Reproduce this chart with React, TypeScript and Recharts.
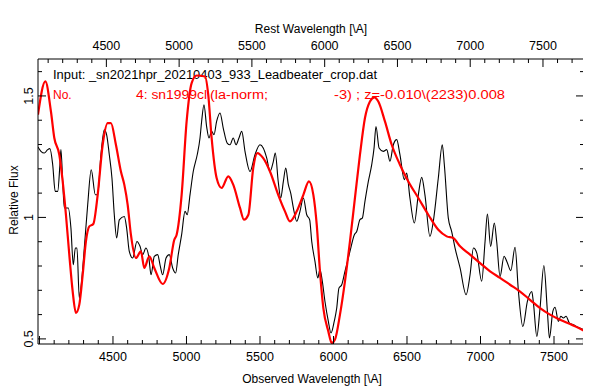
import React from "react";
import { LineChart, Line, XAxis, YAxis, Customized } from "recharts";

const obsWave = [3990,4010,4033,4056,4071,4090,4107,4124,4139,4146,4158,4169,4196,4214,4230,4244,4255,4271,4282,4305,4328,4352,4380,4396,4418,4441,4457,4475,4493,4509,4525,4543,4577,4593,4611,4634,4663,4684,4702,4724,4743,4759,4781,4804,4820,4838,4861,4883,4906,4926,4944,4967,4990,5005,5024,5046,5073,5092,5103,5119,5137,5153,5171,5187,5205,5228,5250,5277,5296,5318,5337,5357,5376,5398,5432,5466,5500,5522,5546,5568,5591,5604,5624,5641,5659,5675,5693,5709,5727,5750,5772,5795,5818,5838,5852,5874,5893,5908,5924,5942,5965,5983,6005,6022,6037,6056,6078,6112,6142,6158,6180,6196,6214,6237,6260,6276,6289,6310,6339,6362,6384,6407,6430,6452,6482,6498,6520,6550,6577,6600,6622,6656,6679,6713,6740,6754,6781,6804,6827,6861,6902,6929,6952,6975,7008,7031,7047,7069,7094,7110,7133,7160,7179,7206,7235,7258,7288,7319,7349,7360,7383,7405,7431,7455,7469,7492,7507,7530,7546,7564,7582,7605,7632,7666,7704];
const obsFlux = [1.29,1.272,1.265,1.279,1.283,1.217,1.107,1.107,1.217,1.279,1.148,1.039,1.039,0.956,0.805,0.874,0.874,0.668,0.709,0.874,1.052,1.196,1.093,1.093,1.258,1.361,1.34,1.258,1.162,1.011,0.915,0.99,1.004,0.956,0.86,0.833,0.901,0.881,0.847,0.874,0.84,0.764,0.84,0.847,0.805,0.764,0.833,0.847,0.792,0.771,0.847,0.929,1.025,1.011,1.093,1.189,1.258,1.327,1.395,1.464,1.374,1.327,1.354,1.34,1.395,1.43,1.368,1.306,1.299,1.327,1.299,1.327,1.354,1.272,1.189,1.258,1.299,1.286,1.244,1.189,1.231,1.265,1.148,1.08,1.148,1.203,1.135,1.1,1.039,0.984,1.025,1.08,1.011,0.99,0.901,0.819,0.751,0.785,0.737,0.654,0.572,0.524,0.572,0.627,0.709,0.723,0.778,0.86,0.929,0.942,0.991,0.997,1.066,1.148,1.217,1.286,1.374,1.286,1.272,1.279,1.231,1.299,1.32,1.258,1.155,1.183,1.08,0.977,1.093,1.165,1.093,0.922,0.984,1.162,1.299,1.217,0.997,0.942,0.874,0.792,0.682,0.764,0.874,0.853,0.737,0.901,1.014,0.881,0.977,0.901,0.757,0.84,0.819,0.781,0.877,0.695,0.551,0.654,0.695,0.648,0.51,0.627,0.802,0.613,0.504,0.613,0.63,0.572,0.593,0.586,0.593,0.565,0.558,0.547,0.538];

const tmplWave = [3990,4040,4078,4101,4135,4158,4180,4203,4226,4248,4271,4294,4316,4339,4366,4396,4430,4464,4486,4520,4554,4577,4600,4622,4656,4690,4713,4747,4781,4838,4883,4917,4933,4967,5001,5035,5069,5126,5148,5171,5205,5239,5284,5318,5364,5391,5421,5454,5482,5522,5568,5624,5670,5704,5750,5795,5833,5863,5886,5908,5931,5965,5988,6010,6044,6078,6112,6146,6180,6214,6248,6278,6305,6350,6396,6452,6509,6577,6645,6713,6770,6815,6861,6929,6997,7065,7133,7201,7269,7337,7405,7473,7541,7609,7704];
const tmplFlux = [1.423,1.56,1.436,1.327,1.258,1.148,1.011,0.846,0.695,0.607,0.641,0.764,0.901,0.963,0.973,1.093,1.299,1.388,1.388,1.299,1.189,1.135,1.052,0.929,0.833,0.86,0.792,0.84,0.792,0.726,0.792,0.908,0.929,1.093,1.395,1.553,1.584,1.58,1.505,1.327,1.162,1.121,1.169,1.135,1.039,0.991,1.011,1.203,1.265,1.244,1.189,1.093,1.025,0.984,1.025,1.093,1.148,1.093,0.97,0.778,0.627,0.531,0.483,0.497,0.6,0.737,0.901,1.08,1.258,1.409,1.477,1.494,1.477,1.395,1.299,1.217,1.148,1.08,1.011,0.949,0.922,0.915,0.881,0.847,0.812,0.778,0.751,0.723,0.695,0.661,0.627,0.6,0.579,0.561,0.534];

const obsTicks = [4000,4100,4200,4300,4400,4500,4600,4700,4800,4900,5000,5100,5200,5300,5400,5500,5600,5700,5800,5900,6000,6100,6200,6300,6400,6500,6600,6700,6800,6900,7000,7100,7200,7300,7400,7500,7600,7700];
const restTicks = [4100,4200,4300,4400,4500,4600,4700,4800,4900,5000,5100,5200,5300,5400,5500,5600,5700,5800,5900,6000,6100,6200,6300,6400,6500,6600,6700,6800,6900,7000,7100,7200,7300,7400,7500,7600,7700];
const waveLabels = [4500, 5000, 5500, 6000, 6500, 7000, 7500];
const fluxTicks = [0.5,0.6,0.7,0.8,0.9,1.0,1.1,1.2,1.3,1.4,1.5,1.6];
const fluxLabels = [0.5, 1.0, 1.5];

const redshift = -0.01;
const obsDomain = [3990, 7704];
const restDomain = [obsDomain[0] / (1 + redshift), obsDomain[1] / (1 + redshift)];
const fluxDomain = [0.479, 1.652];

const obsData = obsWave.map((w, i) => ({ w, f: obsFlux[i] }));
const tmplData = tmplWave.map((w, i) => ({ w, f: tmplFlux[i] }));

const FONT = "'Liberation Sans', Arial, Helvetica, sans-serif";

const BottomTick = (p: any) => {
  const v = p.payload.value;
  const major = v % 500 === 0;
  const labeled = waveLabels.includes(v);
  return (
    <g>
      <line x1={p.x} y1={p.y} x2={p.x} y2={p.y - (major ? 8 : 4)} stroke="#000" strokeWidth={1} />
      {labeled && (
        <text x={p.x} y={p.y + 17} textAnchor="middle" fontFamily={FONT} fontSize={12.5} fill="#000">{v}</text>
      )}
    </g>
  );
};

const TopTick = (p: any) => {
  const v = p.payload.value;
  const major = v % 500 === 0;
  const labeled = waveLabels.includes(v);
  return (
    <g>
      <line x1={p.x} y1={p.y} x2={p.x} y2={p.y + (major ? 8 : 4)} stroke="#000" strokeWidth={1} />
      {labeled && (
        <text x={p.x} y={p.y - 9} textAnchor="middle" fontFamily={FONT} fontSize={12.5} fill="#000">{v}</text>
      )}
    </g>
  );
};

const isMajorY = (v: number) => fluxLabels.some((m) => Math.abs(m - v) < 1e-6);

const LeftTick = (p: any) => {
  const v = p.payload.value;
  const major = isMajorY(v);
  return (
    <g>
      <line x1={p.x} y1={p.y} x2={p.x + (major ? 8 : 4)} y2={p.y} stroke="#000" strokeWidth={1} />
      {major && (
        <text x={p.x - 5} y={p.y} textAnchor="middle" fontFamily={FONT} fontSize={12.5} fill="#000"
          transform={`rotate(-90 ${p.x - 5} ${p.y})`}>{v === 1 ? "1" : String(v)}</text>
      )}
    </g>
  );
};

const RightTick = (p: any) => {
  const v = p.payload.value;
  const major = isMajorY(v);
  return <line x1={p.x} y1={p.y} x2={p.x - (major ? 8 : 4)} y2={p.y} stroke="#000" strokeWidth={1} />;
};

const Texts = () => (
  <g fontFamily={FONT} fontSize={12}>
    <text x={303} y={25} textAnchor="middle" fill="#000">Rest Wavelength [\A]</text>
    <text x={304} y={375} textAnchor="middle" fill="#000">Observed Wavelength [\A]</text>
    <text x={10} y={192} textAnchor="middle" fill="#000" transform="rotate(-90 10 192)">Relative Flux</text>
    <text x={45} y={71} fill="#000" textLength={324} lengthAdjust="spacingAndGlyphs">Input: _sn2021hpr_20210403_933_Leadbeater_crop.dat</text>
    <text x={45} y={91} fill="#ff0000">No.</text>
    <text x={128} y={91} fill="#ff0000" textLength={71} lengthAdjust="spacingAndGlyphs">4: sn1999cl</text>
    <text x={202} y={91} fill="#ff0000" textLength={58} lengthAdjust="spacingAndGlyphs">(la-norm;</text>
    <text x={326} y={91} fill="#ff0000" textLength={171} lengthAdjust="spacingAndGlyphs">-3) ; z=-0.010\(2233)0.008</text>
  </g>
);

export default function App() {
  return (
    <div style={{ width: 583, height: 380, background: "#fff" }}>
      <LineChart width={583} height={380} margin={{ top: 21, right: 2, bottom: 14, left: 10 }}>
        <XAxis xAxisId="bottom" dataKey="w" type="number" domain={obsDomain} allowDataOverflow
          ticks={obsTicks} interval={0} height={30} tickSize={0} tickMargin={0} tick={<BottomTick />}
          axisLine={{ stroke: "#000" }} tickLine={false} orientation="bottom" />
        <XAxis xAxisId="top" dataKey="w" type="number" domain={restDomain} allowDataOverflow
          ticks={restTicks} interval={0} height={30} tickSize={0} tickMargin={0} tick={<TopTick />}
          axisLine={{ stroke: "#000" }} tickLine={false} orientation="top" />
        <YAxis yAxisId="left" type="number" domain={fluxDomain} allowDataOverflow
          ticks={fluxTicks} interval={0} width={20} tickSize={0} tickMargin={0} tick={<LeftTick />}
          axisLine={{ stroke: "#000" }} tickLine={false} orientation="left" />
        <YAxis yAxisId="right" type="number" domain={fluxDomain} allowDataOverflow
          ticks={fluxTicks} interval={0} width={5} tickSize={0} tickMargin={0} tick={<RightTick />}
          axisLine={{ stroke: "#000" }} tickLine={false} orientation="right" />
        <Line xAxisId="bottom" yAxisId="left" data={obsData} dataKey="f" type="monotone"
          stroke="#000" strokeWidth={1.1} dot={false} isAnimationActive={false} />
        <Line xAxisId="bottom" yAxisId="left" data={tmplData} dataKey="f" type="monotone"
          stroke="#ff0000" strokeWidth={2.2} dot={false} isAnimationActive={false} />
        <Customized component={Texts} />
      </LineChart>
    </div>
  );
}
